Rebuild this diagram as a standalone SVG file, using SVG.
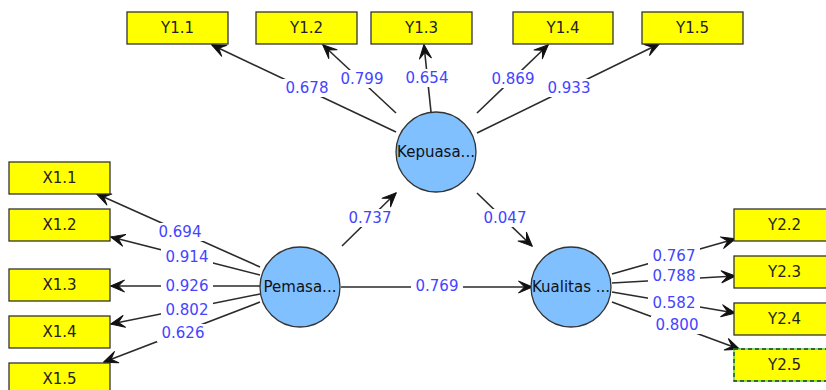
<svg xmlns="http://www.w3.org/2000/svg" width="826" height="390" viewBox="0 0 826 390">
<style>
.box{fill:#ffff00;stroke:#333;stroke-width:1.3}
.bt{font-family:"DejaVu Sans",Verdana,sans-serif;font-size:15px;fill:#222;text-anchor:middle}
.lv{fill:#80c0ff;stroke:#333;stroke-width:1.3}
.lt{font-family:"DejaVu Sans",Verdana,sans-serif;font-size:15px;fill:#111;text-anchor:middle}
.c{stroke:#2a2a2a;stroke-width:1.6;fill:none;marker-end:url(#ah)}
.bg{fill:#fff}
.w{font-family:"DejaVu Sans",Verdana,sans-serif;font-size:15px;fill:#4444ff;text-anchor:middle}
</style>
<defs>
<marker id="ah" markerUnits="userSpaceOnUse" viewBox="-1 -1 16 14" refX="13.5" refY="6" markerWidth="16" markerHeight="14" orient="auto">
<path d="M0,0 L14,6 L0,12 L6,6 z" fill="#111" stroke="#111" stroke-width="1" stroke-linejoin="round"/>
</marker>
</defs>
<rect width="826" height="390" fill="#fff"/>
<g id="connectors">
<line class="c" x1="396" y1="132" x2="212" y2="45"/>
<line class="c" x1="396" y1="113" x2="323" y2="45"/>
<line class="c" x1="431" y1="112" x2="424" y2="45"/>
<line class="c" x1="477" y1="113" x2="548" y2="45"/>
<line class="c" x1="477" y1="133" x2="659" y2="44"/>
<line class="c" x1="260" y1="267" x2="97" y2="194"/>
<line class="c" x1="260" y1="275" x2="111" y2="237"/>
<line class="c" x1="261" y1="286" x2="111" y2="286"/>
<line class="c" x1="260" y1="294" x2="111" y2="324"/>
<line class="c" x1="260" y1="302" x2="104" y2="362"/>
<line class="c" x1="342" y1="246" x2="396" y2="193"/>
<line class="c" x1="477" y1="193" x2="532" y2="246"/>
<line class="c" x1="341" y1="287" x2="532" y2="287"/>
<line class="c" x1="612" y1="274" x2="735" y2="239"/>
<line class="c" x1="612" y1="283" x2="735" y2="276"/>
<line class="c" x1="612" y1="292" x2="735" y2="313"/>
<line class="c" x1="612" y1="302" x2="739" y2="349"/>
<g id="labels">
<rect class="bg" x="281" y="79" width="52" height="18"/>
<rect class="bg" x="336" y="70" width="52" height="18"/>
<rect class="bg" x="401" y="69" width="52" height="18"/>
<rect class="bg" x="487" y="70" width="52" height="18"/>
<rect class="bg" x="543" y="79" width="52" height="18"/>
<rect class="bg" x="154" y="223" width="52" height="18"/>
<rect class="bg" x="161" y="248" width="52" height="18"/>
<rect class="bg" x="161" y="277" width="52" height="18"/>
<rect class="bg" x="161" y="301" width="52" height="18"/>
<rect class="bg" x="157" y="324" width="52" height="18"/>
<rect class="bg" x="344" y="209" width="52" height="18"/>
<rect class="bg" x="479" y="209" width="52" height="18"/>
<rect class="bg" x="411" y="277" width="52" height="18"/>
<rect class="bg" x="648" y="247" width="52" height="18"/>
<rect class="bg" x="648" y="267" width="52" height="18"/>
<rect class="bg" x="648" y="294" width="52" height="18"/>
<rect class="bg" x="651" y="316" width="52" height="18"/>
<text class="w" x="307" y="93">0.678</text>
<text class="w" x="362" y="84">0.799</text>
<text class="w" x="427" y="83">0.654</text>
<text class="w" x="513" y="84">0.869</text>
<text class="w" x="569" y="93">0.933</text>
<text class="w" x="180" y="237">0.694</text>
<text class="w" x="187" y="262">0.914</text>
<text class="w" x="187" y="291">0.926</text>
<text class="w" x="187" y="315">0.802</text>
<text class="w" x="183" y="338">0.626</text>
<text class="w" x="370" y="223">0.737</text>
<text class="w" x="505" y="223">0.047</text>
<text class="w" x="437" y="291">0.769</text>
<text class="w" x="674" y="261">0.767</text>
<text class="w" x="674" y="281">0.788</text>
<text class="w" x="674" y="308">0.582</text>
<text class="w" x="677" y="330">0.800</text>
</g>
</g>
<g id="Kepuasan"><circle class="lv" cx="436" cy="152" r="40"/><text class="lt" x="436" y="157">Kepuasa...</text></g>
<g id="Pemasaran"><circle class="lv" cx="300" cy="287" r="40"/><text class="lt" x="300" y="292">Pemasa...</text></g>
<g id="Kualitas"><circle class="lv" cx="571" cy="287" r="40"/><text class="lt" x="571" y="292">Kualitas ...</text></g>
<g id="Y1.1"><rect class="box" x="127" y="12" width="101" height="32"/><text class="bt" x="177.5" y="33">Y1.1</text></g>
<g id="Y1.2"><rect class="box" x="256" y="12" width="101" height="32"/><text class="bt" x="306.5" y="33">Y1.2</text></g>
<g id="Y1.3"><rect class="box" x="371" y="12" width="101" height="32"/><text class="bt" x="421.5" y="33">Y1.3</text></g>
<g id="Y1.4"><rect class="box" x="513" y="12" width="100" height="32"/><text class="bt" x="563" y="33">Y1.4</text></g>
<g id="Y1.5"><rect class="box" x="642" y="12" width="101" height="32"/><text class="bt" x="692.5" y="33">Y1.5</text></g>
<g id="X1.1"><rect class="box" x="9" y="162" width="101" height="32"/><text class="bt" x="59.5" y="183">X1.1</text></g>
<g id="X1.2"><rect class="box" x="9" y="209" width="101" height="32"/><text class="bt" x="59.5" y="230">X1.2</text></g>
<g id="X1.3"><rect class="box" x="9" y="269" width="101" height="32"/><text class="bt" x="59.5" y="290">X1.3</text></g>
<g id="X1.4"><rect class="box" x="9" y="316" width="101" height="32"/><text class="bt" x="59.5" y="337">X1.4</text></g>
<g id="X1.5"><rect class="box" x="9" y="363" width="101" height="32"/><text class="bt" x="59.5" y="384">X1.5</text></g>
<g id="Y2.2"><rect class="box" x="734" y="209" width="101" height="32"/><text class="bt" x="784.5" y="230">Y2.2</text></g>
<g id="Y2.3"><rect class="box" x="734" y="256" width="101" height="32"/><text class="bt" x="784.5" y="277">Y2.3</text></g>
<g id="Y2.4"><rect class="box" x="734" y="303" width="101" height="32"/><text class="bt" x="784.5" y="324">Y2.4</text></g>
<g id="Y2.5"><rect x="734" y="349" width="101" height="32" fill="#ffff00" stroke="#33dd33" stroke-width="1.3"/><rect x="734" y="349" width="101" height="32" fill="none" stroke="#333" stroke-width="1.3" stroke-dasharray="4,3"/><text class="bt" x="784.5" y="370">Y2.5</text></g>
</svg>
